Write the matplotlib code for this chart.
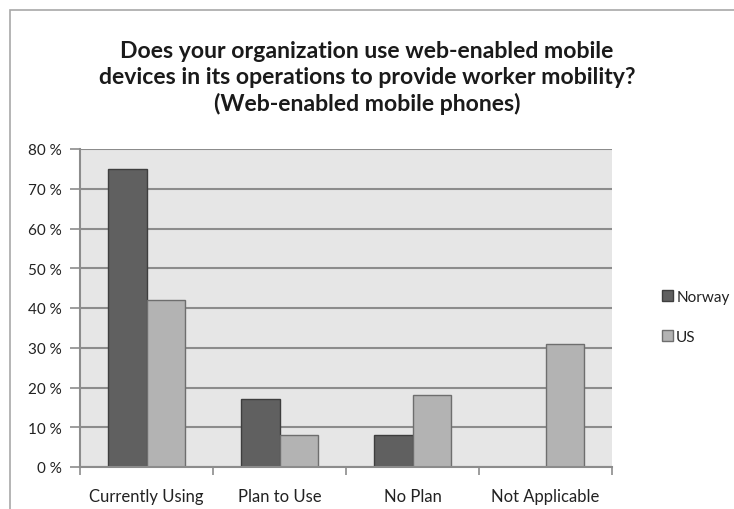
import matplotlib
matplotlib.use("Agg")
import matplotlib.pyplot as plt
from matplotlib.patches import Rectangle
from matplotlib.ticker import FixedLocator, FuncFormatter
import numpy as np

categories = ["Currently Using", "Plan to Use", "No Plan", "Not Applicable"]
norway = [75, 17, 8, 0]
us = [42, 8, 18, 31]
series_names = ["Norway", "US"]
yticks = [0, 10, 20, 30, 40, 50, 60, 70, 80]
title = ("Does your organization use web-enabled mobile\n"
         "devices in its operations to provide worker mobility?\n"
         "(Web-enabled mobile phones)")

plt.rcParams['font.family'] = ['Lato', 'DejaVu Sans']

fig = plt.figure(figsize=(7.34, 5.10), dpi=100)
fig.patch.set_facecolor("white")

# outer chart frame
fig.add_artist(Rectangle((10/734, -0.05), 1.0, 1 - 11/510 + 0.05, transform=fig.transFigure,
                         fill=False, edgecolor="#a8a8a8", linewidth=1.2))

ax = fig.add_axes([80/734, 42/510, 532/734, 318/510])
ax.set_facecolor("#e6e6e6")

x = np.arange(len(categories))
w = 0.29
ax.bar(x - w/2, norway, width=w, color="#606060", edgecolor="#3e3e3e", linewidth=1.0,
       label=series_names[0], zorder=3)
ax.bar(x + w/2, us, width=w, color="#b3b3b3", edgecolor="#6e6e6e", linewidth=1.0,
       label=series_names[1], zorder=3)

ax.set_xlim(-0.5, len(categories) - 0.5)
ax.set_ylim(0, 80)
ax.set_yticks(yticks)
ax.yaxis.set_major_formatter(FuncFormatter(lambda v, p: f"{int(v)} %"))
ax.yaxis.grid(True, color="#8c8c8c", linewidth=1.5, zorder=1)
ax.set_axisbelow(True)

ax.set_xticks(x)
ax.set_xticklabels(categories)
ax.xaxis.set_minor_locator(FixedLocator(np.arange(-0.5, len(categories), 1.0)))
ax.tick_params(axis="x", which="major", length=0, pad=15, labelsize=12, labelcolor="#222222")
ax.tick_params(axis="x", which="minor", length=6, width=1.2, color="#8c8c8c")
ax.tick_params(axis="y", length=7, width=1.2, color="#8c8c8c", labelsize=11, labelcolor="#222222", pad=6)

for s in ["top", "right"]:
    ax.spines[s].set_visible(False)
for s in ["left", "bottom"]:
    ax.spines[s].set_color("#8c8c8c")
    ax.spines[s].set_linewidth(1.5)
    ax.spines[s].set_zorder(4)

fig.text(367/734, 1 - 78/510, title, ha="center", va="center", fontsize=16.6,
         fontweight="bold", color="#1a1a1a", linespacing=1.3)

leg = ax.legend(loc="center left", bbox_to_anchor=(651/734, 1 - 318/510),
                bbox_transform=fig.transFigure, frameon=False, fontsize=11,
                handlelength=0.75, handleheight=0.75, handletextpad=0.2, labelspacing=1.7,
                borderpad=0.2)
for t in leg.get_texts():
    t.set_color("#222222")

fig.savefig("out.png", dpi=100)
